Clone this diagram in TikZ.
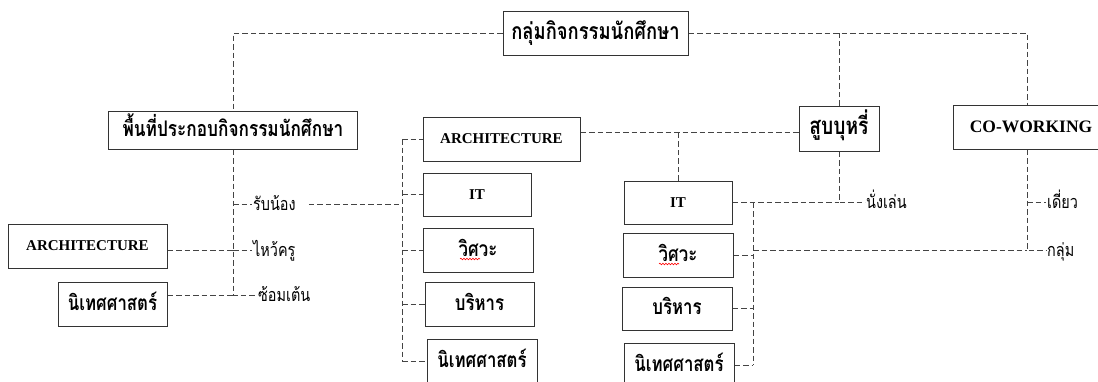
\documentclass[tikz,border=0pt]{standalone}
\usepackage{fontspec}
\setmainfont{Liberation Serif}
\newfontfamily\thaifont[Script=Thai,FakeStretch=0.8]{Loma}
\usetikzlibrary{positioning,decorations.pathmorphing}
\definecolor{boxLine}{HTML}{333333}
\definecolor{linkGray}{HTML}{444444}

\begin{document}
\begin{tikzpicture}[x=1pt,y=-1pt,
  box/.style={draw=boxLine,line width=1pt,fill=white,inner sep=0pt,align=center},
  thbox/.style={box,text height=12pt,text depth=0pt,font=\thaifont\bfseries\fontsize{21}{24}\selectfont},
  enbox/.style={box,font=\bfseries\fontsize{15}{18}\selectfont},
  lbl/.style={anchor=west,inner sep=1pt,text height=12pt,text depth=0pt,font=\thaifont\fontsize{18}{20}\selectfont},
  link/.style={draw=linkGray,line width=0.9pt,dash pattern=on 5.5pt off 3pt},
  typo/.style={red,line width=0.6pt,decorate,decoration={snake,amplitude=0.8pt,segment length=3pt}}
]
\useasboundingbox (0,0) rectangle (1098,381);
\node[thbox,font=\thaifont\bfseries\fontsize{23}{26}\selectfont,minimum width=185pt,minimum height=44pt] (club) at (595.5,33) {กลุ่มกิจกรรมนักศึกษา};
\node[thbox,font=\thaifont\bfseries\fontsize{21.5}{24}\selectfont,minimum width=249pt,minimum height=38pt] (space) at (233,130) {พื้นที่ประกอบกิจกรรมนักศึกษา};
\node[enbox,minimum width=159pt,minimum height=44pt] (archL) at (87.5,246) {ARCHITECTURE};
\node[thbox,minimum width=109pt,minimum height=44pt] (commL) at (112.5,304) {นิเทศศาสตร์};
\node[lbl] (welcome) at (252,204) {รับน้อง};
\node[lbl] (wai) at (252,250) {ไหว้ครู};
\node[lbl] (dance) at (257,295) {ซ้อมเต้น};

\node[enbox,minimum width=157pt,minimum height=44pt] (archM) at (501.5,139) {ARCHITECTURE};
\node[enbox,minimum width=108pt,minimum height=43pt] (itM) at (477,194.5) {IT};
\node[thbox,minimum width=110pt,minimum height=44pt] (engM) at (478,250) {วิศวะ};
\node[thbox,minimum width=109pt,minimum height=44pt] (busM) at (479.5,304) {บริหาร};
\node[thbox,minimum width=110pt,minimum height=44pt] (commM) at (482,361) {นิเทศศาสตร์};

\node[thbox,font=\thaifont\bfseries\fontsize{24}{27}\selectfont,minimum width=80pt,minimum height=45pt] (smoke) at (839,128.5) {สูบบุหรี่};
\node[enbox,font=\bfseries\fontsize{17.5}{20}\selectfont,minimum width=156pt,minimum height=44pt] (cowork) at (1031,127) {CO-WORKING};
\node[lbl] (relax) at (865,202) {นั่งเล่น};
\node[lbl] (solo) at (1046,202) {เดี่ยว};
\node[lbl] (group) at (1046,250) {กลุ่ม};

\node[enbox,minimum width=108pt,minimum height=43pt] (itR) at (678,202.5) {IT};
\node[thbox,minimum width=110pt,minimum height=44pt] (engR) at (678,255) {วิศวะ};
\node[thbox,minimum width=110pt,minimum height=43pt] (busR) at (677,308.5) {บริหาร};
\node[thbox,minimum width=110pt,minimum height=44pt] (commR) at (679,365) {นิเทศศาสตร์};

\coordinate (mx) at (402,0);
\coordinate (rx) at (753,0);
\coordinate (cx) at (1027,0);
\coordinate (ay) at (0,132);

\draw[link] (club.west) -| (space.north);
\draw[link] (club.east) -| (cx|-cowork.north);
\draw[link] (smoke.north) -- (smoke.north|-club.east);

\draw[link] (space.south) |- (dance.west);
\draw[link] (space.south|-welcome.west) -- (welcome.west);
\draw[link] (space.south|-wai.west) -- (wai.west);
\draw[link] (archL.east|-wai.west) -- (space.south|-wai.west);
\draw[link] (commL.east|-dance.west) -- (space.south|-dance.west);
\draw[link] ([xshift=12pt]welcome.east) -- (mx|-welcome.east);

\draw[link] (mx|-archM.west) -- (mx|-commM.west);
\draw[link] (mx|-archM.west) -- (archM.west);
\draw[link] (mx|-itM.west) -- (itM.west);
\draw[link] (mx|-engM.west) -- (engM.west);
\draw[link] (mx|-busM.west) -- (busM.west);
\draw[link] (mx|-commM.west) -- (commM.west);

\draw[link] (archM.east|-ay) -- (smoke.west|-ay);
\draw[link] (itR.north) -- (itR.north|-ay);
\draw[link] (smoke.south) |- (relax.west);
\draw[link] (itR.east) -- (smoke.south|-itR.east);

\draw[link] (rx|-itR.east) -- (rx|-commR.east);
\draw[link] (engR.east) -- (rx|-engR.east);
\draw[link] (busR.east) -- (rx|-busR.east);
\draw[link] (commR.east) -- (rx|-commR.east);
\draw[link] (rx|-group.west) -- (cx|-group.west);
\draw[link] (cx|-cowork.south) |- (group.west);
\draw[link] (cx|-solo.west) -- (solo.west);

\draw[typo] ([shift={(-18pt,-9pt)}]engM.center) -- ++(20pt,0pt);
\draw[typo] ([shift={(-19pt,-9pt)}]engR.center) -- ++(20pt,0pt);
\end{tikzpicture}
\end{document}
